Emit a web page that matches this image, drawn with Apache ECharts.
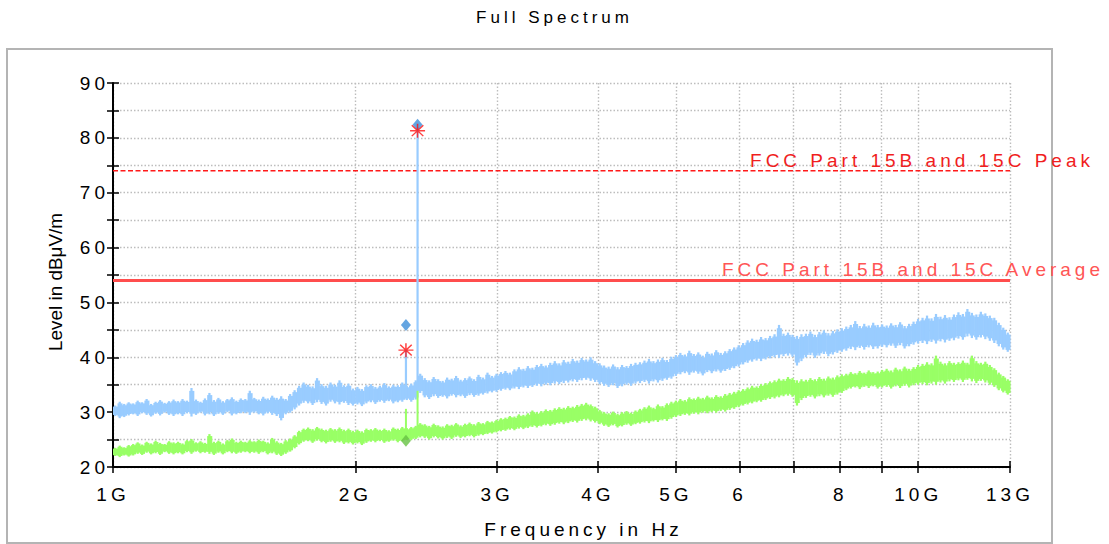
<!DOCTYPE html>
<html>
<head>
<meta charset="utf-8">
<title>Full Spectrum</title>
<script src="https://cdn.jsdelivr.net/npm/echarts@6/dist/echarts.min.js"></script>
<style>
  html, body { margin: 0; padding: 0; background: #fff; }
  #chart { width: 1109px; height: 544px; }
  #chart text { letter-spacing: 4px; }
</style>
</head>
<body>
<div id="chart"></div>
<script>
// Sweep range of the receiver (GHz); bins are spread evenly on a log scale.
const START_GHZ = 1;
const STOP_GHZ = 13;

// Peak detector trace: max / min level per display bin (dBµV/m)
const peakHi = [31.2, 31.9, 31.5, 31.8,
  31.6, 32.1, 31.8, 32.4, 31.5, 31.9, 32.2, 31.7, 32.0, 32.3,
  32.0, 32.4, 32.1, 34.4, 32.3, 31.9, 32.5, 33.5, 32.2, 32.6, 32.0, 32.4, 32.7, 32.1, 32.5,
  32.4, 33.9, 32.6, 32.3, 32.8, 32.5, 33.0, 32.6, 32.9, 32.4, 33.3,
  34.0, 34.8, 35.4,
  35.0, 34.7, 36.2, 35.1, 34.8, 35.4, 35.0, 35.8, 34.9, 35.2,
  34.3, 34.6, 34.2, 34.9, 35.1, 34.6, 34.8, 35.3, 34.7, 35.0, 34.9, 35.4, 34.8,
  35.2, 35.8, 37.0,
  36.2, 35.8, 36.4, 36.0, 35.7, 36.3, 36.1, 36.6, 35.9, 36.2, 36.5, 36.0, 36.8, 36.3, 37.2, 36.6,
  37.0, 37.3, 37.5, 37.2, 37.8, 38.2, 37.9, 38.4, 38.1, 38.6, 38.8, 38.5, 39.0, 39.3, 38.9, 39.5, 39.2, 39.7, 39.4, 39.9,
  39.6, 40.0, 39.3,
  38.9, 38.5, 38.3, 38.7, 38.2, 38.6, 38.4, 38.8, 39.0,
  39.1, 39.4, 39.7, 39.3, 39.6, 39.9, 39.5, 40.1,
  40.4, 40.8, 40.5, 41.2, 40.6, 40.9, 40.3, 41.0, 40.7, 41.3, 40.8, 41.1, 41.5, 41.8, 42.2,
  42.6, 43.1, 43.4, 43.2, 43.7, 43.5, 43.9, 44.2, 45.9, 44.3, 44.5, 44.1,
  43.9, 44.2,
  44.3, 44.7, 44.1, 44.6, 44.9, 44.4, 44.8, 45.1, 45.3,
  45.6, 45.9, 46.6, 45.7, 46.1, 45.8, 46.3, 45.9, 46.0,
  45.8, 46.2, 45.9, 46.4, 45.7, 46.1, 46.5, 47.0,
  47.2, 47.6, 47.1, 47.9, 47.4, 47.7, 47.3, 47.8,
  48.2, 47.9, 48.8, 48.1, 47.8, 48.3, 48.0, 47.6, 47.2,
  46.3, 45.4, 44.5];
const peakLo = [29.3, 28.9, 29.1, 29.4,
  29.6, 29.3, 29.8, 29.5, 29.2, 29.7, 29.4, 29.9, 29.5, 29.3,
  29.6, 29.3, 29.8, 29.2, 29.5, 29.9, 29.4, 29.6, 29.3, 29.7, 29.5, 30.0, 29.4, 29.6, 29.8,
  29.8, 29.5, 29.9, 29.6, 29.4, 29.8, 29.5, 29.3, 28.5, 29.6, 29.9,
  30.5, 31.2, 31.7,
  31.6, 31.3, 31.8, 31.5, 31.2, 31.9, 31.6, 31.4, 31.7, 31.3,
  31.2, 31.4, 31.1, 31.6, 31.8, 31.5, 31.9, 31.7, 32.0, 31.6, 31.8, 31.9, 32.2,
  31.9, 32.3, 33.5,
  32.7, 32.4, 32.9, 32.6, 32.8, 32.5, 33.0, 32.7, 32.9, 32.6, 33.1, 32.8, 33.0, 33.2, 33.4, 33.6,
  33.7, 33.9, 34.1, 34.0, 34.3, 34.2, 34.5, 34.4, 34.6, 34.8, 34.7, 35.0, 34.9, 35.2, 35.1, 35.3, 35.4, 35.6, 35.5, 35.8,
  35.9, 35.7, 35.5,
  35.1, 34.8, 34.6, 34.9, 34.4, 34.7, 35.0, 34.8, 35.2,
  35.3, 35.5, 35.2, 35.6, 35.4, 35.7, 35.9, 36.1,
  36.6, 36.9, 37.1, 36.8, 37.2, 37.0, 36.7, 37.3, 37.1, 37.4, 37.2, 37.5, 37.7, 38.0, 38.3,
  38.7, 39.0, 39.2, 39.4, 39.3, 39.6, 39.8, 40.0, 39.9, 40.2, 40.3, 40.1,
  38.5, 39.3,
  40.0, 40.4, 39.9, 40.3, 40.6, 40.2, 40.5, 40.8, 41.0,
  41.2, 41.5, 41.3, 41.7, 41.4, 41.8, 41.5, 41.6, 41.9,
  41.8, 42.1, 41.7, 42.2, 41.6, 42.0, 42.3, 42.5,
  42.6, 42.4, 42.8, 42.5, 42.9, 42.7, 43.0, 43.1,
  43.4, 43.2, 43.8, 43.5, 43.2, 43.6, 43.3, 43.0, 42.6,
  42.0, 41.4, 41.0];

// Average detector trace: max / min level per display bin (dBµV/m)
const avgHi = [23.5, 23.9, 23.6, 24.0,
  24.2, 24.5, 24.1, 24.6, 24.3, 24.8, 24.4, 24.2, 24.7, 24.5,
  24.6, 24.3, 24.9, 25.1, 24.5, 24.7, 24.4, 26.0, 24.6, 24.8, 24.3, 24.9, 25.2, 24.6, 24.8,
  24.6, 24.9, 24.7, 25.0, 24.8, 24.5, 25.3, 24.7, 24.4, 24.9, 25.2,
  25.8, 26.6, 27.0,
  27.2, 26.9, 27.3, 27.0, 26.8, 27.1, 26.9, 27.2, 26.8, 27.0,
  26.6, 26.8, 26.5, 27.0, 26.9, 27.1, 26.8, 27.0, 26.7, 27.2, 27.0, 27.3, 27.1,
  27.3, 27.5, 28.0,
  27.8, 27.5, 27.9, 27.6, 27.4, 27.8, 27.7, 28.0, 27.6, 27.9, 28.1, 27.8, 28.2, 28.0, 28.4, 28.3,
  28.6, 28.9, 29.0, 29.3, 29.2, 29.6, 29.5, 29.8, 30.3, 30.0, 30.2, 30.5, 30.4, 30.7, 30.9, 30.8, 31.1, 31.0, 31.3, 31.5,
  31.7, 31.4, 31.0,
  30.4, 30.0, 29.8, 30.1, 29.7, 30.0, 30.2, 29.9, 30.3,
  30.6, 30.9, 31.2, 30.8, 31.4, 31.1, 31.6, 31.9,
  32.1, 32.4, 32.2, 32.7, 32.5, 32.8, 32.6, 33.0, 32.7, 33.1, 32.9, 33.3, 33.5, 33.7, 34.0,
  34.2, 34.5, 34.8, 34.7, 35.1, 35.3, 35.6, 35.8, 36.1, 36.0, 36.4, 36.2,
  35.8, 36.0,
  35.9, 36.2, 36.0, 36.4, 36.1, 36.5, 36.3, 36.7, 36.9,
  37.0, 37.3, 37.1, 37.5, 37.2, 37.6, 37.3, 37.4, 37.7,
  37.9, 37.6, 38.1, 37.8, 38.3, 37.9, 38.2, 38.6,
  38.8, 39.1, 38.9, 40.3, 39.2, 38.9, 39.3, 39.0,
  39.1, 39.4, 39.0, 40.3, 39.3, 39.0, 39.2, 38.6, 38.0,
  37.2, 36.6, 36.0];
const avgLo = [22.0, 21.8, 22.1, 21.9,
  22.1, 22.4, 22.2, 22.6, 22.3, 22.5, 22.2, 22.7, 22.4, 22.3,
  22.5, 22.3, 22.7, 22.4, 22.8, 22.5, 22.6, 22.4, 22.2, 22.6, 22.3, 22.7, 22.5, 22.4, 22.6,
  22.7, 22.5, 22.6, 22.4, 22.7, 22.3, 22.5, 22.2, 22.0, 22.4, 22.8,
  23.4, 24.1, 24.6,
  24.7, 24.4, 24.8, 24.5, 24.3, 24.6, 24.4, 24.5, 24.2, 24.3,
  24.1, 24.3, 24.0, 24.4, 24.6, 24.5, 24.7, 24.4, 24.6, 24.8, 24.5, 24.7, 24.9,
  24.9, 25.1, 25.4,
  25.3, 25.0, 25.4, 25.2, 25.0, 25.3, 25.1, 25.5, 25.3, 25.4, 25.6, 25.4, 25.7, 25.8, 26.0, 26.1,
  26.3, 26.5, 26.6, 26.8, 26.7, 27.0, 26.9, 27.1, 27.3, 27.2, 27.4, 27.6, 27.5, 27.7, 27.9, 27.8, 28.0, 28.2, 28.1, 28.4,
  28.5, 28.3, 28.1,
  27.8, 27.5, 27.3, 27.6, 27.2, 27.4, 27.7, 27.5, 27.8,
  27.9, 28.1, 28.0, 28.3, 28.2, 28.5, 28.4, 28.8,
  29.1, 29.3, 29.5, 29.4, 29.7, 29.6, 29.9, 29.8, 30.0, 29.9, 30.2, 30.1, 30.4, 30.6, 30.9,
  31.2, 31.4, 31.6, 31.8, 31.9, 32.2, 32.4, 32.5, 32.7, 32.9, 33.0, 32.8,
  31.2, 32.2,
  32.6, 32.8, 32.5, 32.9, 32.7, 33.0, 32.8, 33.2, 33.5,
  34.0, 34.3, 34.5, 34.2, 34.6, 34.4, 34.7, 34.3, 34.5,
  34.6, 34.3, 34.7, 34.4, 34.8, 34.5, 34.9, 35.0,
  35.1, 34.9, 35.2, 35.0, 35.4, 35.2, 35.6, 35.5,
  35.8, 35.5, 35.9, 35.6, 35.3, 35.7, 35.4, 35.0, 34.6,
  34.0, 33.6, 33.2];

// Narrow emissions found in the sweep: [GHz, floor, top]
const peakSpikes = [[2.311, 34.2, 41.4], [2.389, 34.5, 82.0]];
const avgSpikes = [[2.311, 25.0, 30.6], [2.389, 26.0, 33.9]];

// Final measurement markers [GHz, dBµV/m]
const peakFinal = [[2.389, 82.4], [2.311, 45.9]];
const qpFinal = [[2.389, 81.3], [2.311, 41.3]];
const avgFinal = [[2.311, 24.8]];

// Limit lines
const limitPeak = 74;
const limitAvg = 54;
const limitPeakName = 'FCC Part 15B and 15C Peak';
const limitAvgName = 'FCC Part 15B and 15C Average';

// Axis ticks
const xTickGHz = [1, 2, 3, 4, 5, 6, 7, 8, 9, 10, 13];
const xLabelGHz = [1, 2, 3, 4, 5, 6, 8, 10, 13];
const xLabelText = ['1G', '2G', '3G', '4G', '5G', '6', '8', '10G', '13G'];
const yMin = 20, yMax = 90, yStep = 5;

const xAxisName = 'Frequency in Hz';
const yAxisName = 'Level in dB\u03bcV/m';

const lg = Math.log10;
const FONT = 'Liberation Sans';

function binEdges(n) {
  const edges = [];
  for (let i = 0; i <= n; i++) edges.push(lg(START_GHZ) + (lg(STOP_GHZ) - lg(START_GHZ)) * i / n);
  return edges;
}

function bandData(hi, lo) {
  const n = Math.min(hi.length, lo.length);
  const e = binEdges(n);
  const out = [];
  for (let i = 0; i < n; i++) out.push([e[i], e[i + 1], lo[i], hi[i]]);
  return out;
}

// Each display bin: a solid body plus a thin stroke reaching the bin's min and max,
// which gives the band the ragged look of a densely sampled trace.
function bandRender(color) {
  return function (params, api) {
    const a = api.coord([api.value(0), api.value(3)]);
    const b = api.coord([api.value(1), api.value(2)]);
    const w = b[0] - a[0];
    const h = b[1] - a[1];
    return {
      type: 'group',
      children: [{
        type: 'rect',
        shape: { x: a[0], y: a[1] + h * 0.1, width: w + 0.6, height: h * 0.8 },
        style: { fill: color }
      }, {
        type: 'rect',
        shape: { x: a[0] + w * 0.25, y: a[1], width: w * 0.5, height: h },
        style: { fill: color }
      }]
    };
  };
}

function spikeSeries(list, color, width) {
  return list.map(s => ({
    type: 'line',
    data: [[lg(s[0]), s[1]], [lg(s[0]), s[2]]],
    showSymbol: false,
    lineStyle: { color: color, width: width },
    z: 4,
    silent: true
  }));
}

function labelFor(v) {
  for (let i = 0; i < xLabelGHz.length; i++) {
    if (Math.abs(lg(xLabelGHz[i]) - v) < 1e-6) return xLabelText[i];
  }
  return '';
}

const asteriskPath = 'path://M0,9 L20,9 L20,11 L0,11 Z M9,0 L11,0 L11,20 L9,20 Z ' +
  'M1.6,3 L3,1.6 L18.4,17 L17,18.4 Z M17,1.6 L18.4,3 L3,18.4 L1.6,17 Z';

const tickLine = { color: '#000', width: 1.5 };
const gridLine = { color: '#bdbdbd', width: 1.4, type: [1.5, 2] };

const chart = echarts.init(document.getElementById('chart'), null, { renderer: 'svg' });

chart.setOption({
  animation: false,
  backgroundColor: '#fff',
  title: {
    text: 'Full Spectrum',
    left: 'center',
    top: 4,
    textStyle: { fontFamily: FONT, fontSize: 17, fontWeight: 'normal', color: '#000' }
  },
  graphic: [{
    type: 'rect',
    z: -10,
    shape: { x: 7, y: 49, width: 1045, height: 494 },
    style: { fill: 'none', stroke: '#b4b4b4', lineWidth: 2 }
  }],
  grid: { left: 113, right: 99, top: 83, bottom: 76 },
  xAxis: [{
    type: 'value',
    min: lg(START_GHZ),
    max: lg(STOP_GHZ),
    name: xAxisName,
    nameLocation: 'middle',
    nameGap: 53,
    nameTextStyle: { fontFamily: FONT, fontSize: 19, color: '#000', padding: [0, 0, 0, 44] },
    axisLine: { lineStyle: { color: '#000', width: 2 } },
    axisTick: { show: true, length: 6, lineStyle: tickLine, customValues: xTickGHz.map(lg) },
    axisLabel: {
      customValues: xLabelGHz.map(lg),
      formatter: labelFor,
      margin: 18,
      fontFamily: FONT, fontSize: 19, color: '#000'
    },
    splitLine: { show: true, lineStyle: gridLine }
  }, {
    type: 'value',
    position: 'bottom',
    min: lg(START_GHZ),
    max: lg(STOP_GHZ),
    axisLine: { show: false },
    axisTick: { show: true, inside: true, length: 6, lineStyle: tickLine, customValues: xTickGHz.map(lg) },
    axisLabel: { show: false },
    splitLine: { show: false }
  }],
  yAxis: [{
    type: 'value',
    min: yMin, max: yMax, interval: yStep,
    name: yAxisName,
    nameLocation: 'middle',
    nameGap: 48,
    nameTextStyle: { fontFamily: FONT, fontSize: 18.9, color: '#000', padding: [0, 14, 0, 0] },
    axisLine: { show: true, lineStyle: { color: '#000', width: 2 } },
    axisTick: { show: true, length: 6, lineStyle: tickLine },
    axisLabel: {
      margin: 4,
      formatter: v => (v % 10 === 0 ? String(v) : ''),
      fontFamily: FONT, fontSize: 19, color: '#000'
    },
    splitLine: { show: true, lineStyle: gridLine }
  }, {
    type: 'value',
    position: 'left',
    min: yMin, max: yMax, interval: yStep,
    axisLine: { show: false },
    axisTick: { show: true, inside: true, length: 6, lineStyle: tickLine },
    axisLabel: { show: false },
    splitLine: { show: false }
  }],
  series: [
    {
      type: 'custom',
      name: 'Average',
      renderItem: bandRender('#99ff66'),
      encode: { x: [0, 1], y: [2, 3] },
      data: bandData(avgHi, avgLo),
      z: 2,
      silent: true
    },
    {
      type: 'custom',
      name: 'Peak',
      renderItem: bandRender('#99ccff'),
      encode: { x: [0, 1], y: [2, 3] },
      data: bandData(peakHi, peakLo),
      z: 3,
      silent: true
    },
    {
      type: 'line',
      name: limitPeakName,
      data: [[lg(START_GHZ), limitPeak], [lg(STOP_GHZ), limitPeak]],
      showSymbol: false,
      lineStyle: { color: '#ff1a1a', width: 1.5, type: [5, 2.5] },
      endLabel: {
        show: true, formatter: limitPeakName, distance: 0,
        align: 'right', verticalAlign: 'middle', offset: [84, -10],
        fontFamily: FONT, fontSize: 19, color: '#f01e1e'
      },
      z: 3,
      silent: true
    },
    {
      type: 'line',
      name: limitAvgName,
      data: [[lg(START_GHZ), limitAvg], [lg(STOP_GHZ), limitAvg]],
      showSymbol: false,
      lineStyle: { color: '#ff4d4d', width: 3 },
      endLabel: {
        show: true, formatter: limitAvgName, distance: 0,
        align: 'right', verticalAlign: 'middle', offset: [94, -11],
        fontFamily: FONT, fontSize: 19, color: '#ff5555'
      },
      z: 3,
      silent: true
    },
    ...spikeSeries(avgSpikes, '#99ff66', 2),
    ...spikeSeries(peakSpikes, '#99ccff', 2.2),
    {
      type: 'scatter',
      data: avgFinal.map(p => [lg(p[0]), p[1]]),
      symbol: 'diamond', symbolSize: [10, 12],
      itemStyle: { color: '#66c244' },
      z: 6, silent: true
    },
    {
      type: 'scatter',
      data: peakFinal.map(p => [lg(p[0]), p[1]]),
      symbol: 'diamond', symbolSize: [10, 12],
      itemStyle: { color: '#3d8fd9' },
      z: 6, silent: true
    },
    {
      type: 'scatter',
      data: qpFinal.map(p => [lg(p[0]), p[1]]),
      symbol: asteriskPath, symbolSize: [15, 14],
      itemStyle: { color: '#ff1010' },
      z: 7, silent: true
    }
  ]
});

// The rotated axis title is set without extra tracking.
document.querySelectorAll('#chart text').forEach(t => {
  if (t.textContent === yAxisName) t.style.letterSpacing = '0px';
});
</script>
</body>
</html>
